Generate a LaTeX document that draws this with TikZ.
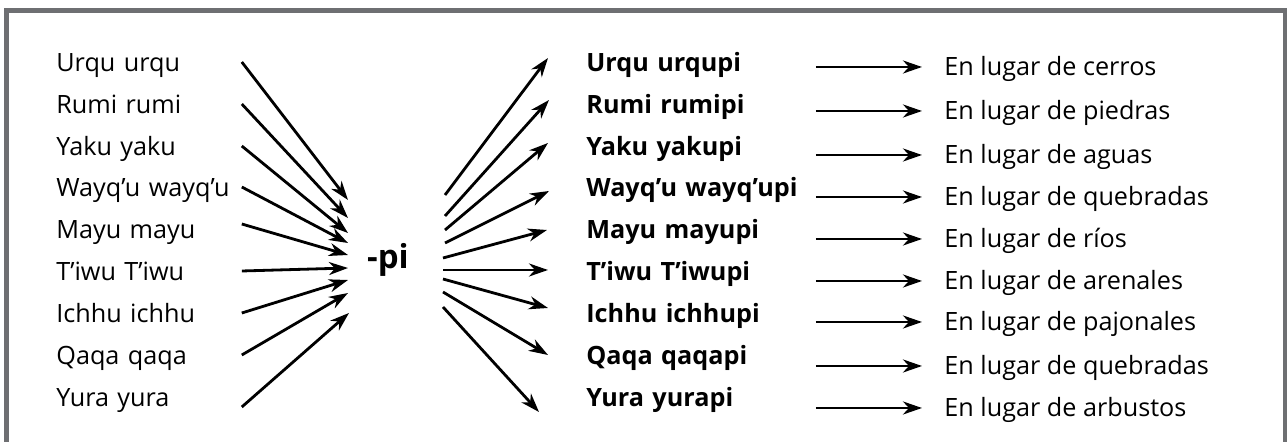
\documentclass[tikz,border=0pt]{standalone}
\usepackage{fontspec}
\setmainfont{Open Sans}
\usepackage{tikz}
\usetikzlibrary{arrows.meta}
\definecolor{framegray}{RGB}{110,111,114}

\begin{document}
\begin{tikzpicture}[x=0.5pt,y=-0.5pt]
\tikzstyle{word}=[anchor=base west,inner sep=0pt,text width=92.5pt,text height=10pt,text depth=0pt,font=\fontsize{12.6}{14}\selectfont]
\tikzstyle{suffixed}=[anchor=base west,inner sep=0pt,text width=114.5pt,font=\bfseries\fontsize{12.6}{14}\selectfont]
\tikzstyle{meaning}=[anchor=base west,inner sep=0pt,text height=9pt,text depth=0pt,font=\fontsize{12.6}{14}\selectfont]
\tikzstyle{arr}=[-{Stealth[length=9.5pt,width=6.5pt,inset=3pt]},line width=1.4pt]
    \path[use as bounding box] (0,0) rectangle (1287,442);
    \clip (0,0) rectangle (1287,442);
    \draw[framegray,line width=2.6pt] (6.8,10.5) rectangle (1285.5,470);
    % base words
    \node[word] (a1) at (56,72)  {Urqu urqu};
    \node[word] (a2) at (56,114) {Rumi rumi};
    \node[word] (a3) at (56,156) {Yaku yaku};
    \node[word] (a4) at (56,197) {Wayq’u wayq’u};
    \node[word] (a5) at (56,239) {Mayu mayu};
    \node[word] (a6) at (56,281) {T’iwu T’iwu};
    \node[word] (a7) at (56,323) {Ichhu ichhu};
    \node[word] (a8) at (56,365) {Qaqa qaqa};
    \node[word] (a9) at (56,407) {Yura yura};
    % suffix
    \node[inner sep=0pt,font=\bfseries\fontsize{16.5}{18}\selectfont] (pi) at (388,260) {-pi};
    % words with -pi
    \node[suffixed] (b1) at (586,72)  {Urqu urqupi};
    \node[suffixed] (b2) at (586,114) {Rumi rumipi};
    \node[suffixed] (b3) at (586,156) {Yaku yakupi};
    \node[suffixed] (b4) at (586,197) {Wayq’u wayq’upi};
    \node[suffixed] (b5) at (586,239) {Mayu mayupi};
    \node[suffixed] (b6) at (586,281) {T’iwu T’iwupi};
    \node[suffixed] (b7) at (586,323) {Ichhu ichhupi};
    \node[suffixed] (b8) at (586,365) {Qaqa qaqapi};
    \node[suffixed] (b9) at (586,407) {Yura yurapi};
    % meanings
    \node[meaning] (c1) at (944,76)  {En lugar de cerros};
    \node[meaning] (c2) at (944,120) {En lugar de piedras};
    \node[meaning] (c3) at (944,164) {En lugar de aguas};
    \node[meaning] (c4) at (944,206) {En lugar de quebradas};
    \node[meaning] (c5) at (944,248) {En lugar de ríos};
    \node[meaning] (c6) at (944,290) {En lugar de arenales};
    \node[meaning] (c7) at (944,331) {En lugar de pajonales};
    \node[meaning] (c8) at (944,375) {En lugar de quebradas};
    \node[meaning] (c9) at (944,417) {En lugar de arbustos};
    % fan ends round -pi
    \coordinate (in1) at (348,200);
    \coordinate (in2) at (348,218);
    \coordinate (in3) at (348,233);
    \coordinate (in4) at (348,243);
    \coordinate (in5) at (348,255);
    \coordinate (in6) at (348,268);
    \coordinate (in7) at (348,280);
    \coordinate (in8) at (348,293);
    \coordinate (in9) at (349,313);
    \coordinate (o1) at (445,195);
    \coordinate (o2) at (445,216);
    \coordinate (o3) at (445,230);
    \coordinate (o4) at (445,243);
    \coordinate (o5) at (443,258);
    \coordinate (o6) at (443,270);
    \coordinate (o7) at (443,279);
    \coordinate (o8) at (443,292);
    \coordinate (o9) at (443,307);
    \coordinate (t1) at (548,58);
    \coordinate (t2) at (549,100);
    \coordinate (t3) at (548,143);
    \coordinate (t4) at (549,191);
    \coordinate (t5) at (547,230);
    \coordinate (t6) at (548,270);
    \coordinate (t7) at (548,308);
    \coordinate (t8) at (548,355);
    \coordinate (t9) at (539,412);
    \draw[arr] (a1.east) -- (in1);
    \draw[arr] (a2.east) -- (in2);
    \draw[arr] (a3.east) -- (in3);
    \draw[arr] (a4.east) -- (in4);
    \draw[arr] ([yshift=2.5pt]a5.east) -- (in5);
    \draw[arr] (a6.east) -- (in6);
    \draw[arr] (a7.east) -- (in7);
    \draw[arr] (a8.east) -- (in8);
    \draw[arr] ([yshift=-5pt]a9.east) -- (in9);
    \draw[arr] (o1) -- (t1);
    \draw[arr] (o2) -- (t2);
    \draw[arr] (o3) -- (t3);
    \draw[arr] (o4) -- (t4);
    \draw[arr] (o5) -- (t5);
    \draw[arr] (o6) -- (t6);
    \draw[arr] (o7) -- (t7);
    \draw[arr] (o8) -- (t8);
    \draw[arr] (o9) -- (t9);
    \draw[arr,shorten >=11pt] (b1.east |- c1.west) -- (c1.west);
    \draw[arr,shorten >=11pt] (b2.east |- c2.west) -- (c2.west);
    \draw[arr,shorten >=11pt] (b3.east |- c3.west) -- (c3.west);
    \draw[arr,shorten >=11pt] (b4.east |- c4.west) -- (c4.west);
    \draw[arr,shorten >=11pt] (b5.east |- c5.west) -- (c5.west);
    \draw[arr,shorten >=11pt] (b6.east |- c6.west) -- (c6.west);
    \draw[arr,shorten >=11pt] (b7.east |- c7.west) -- (c7.west);
    \draw[arr,shorten >=11pt] (b8.east |- c8.west) -- (c8.west);
    \draw[arr,shorten >=11pt] (b9.east |- c9.west) -- (c9.west);
\end{tikzpicture}
\end{document}
